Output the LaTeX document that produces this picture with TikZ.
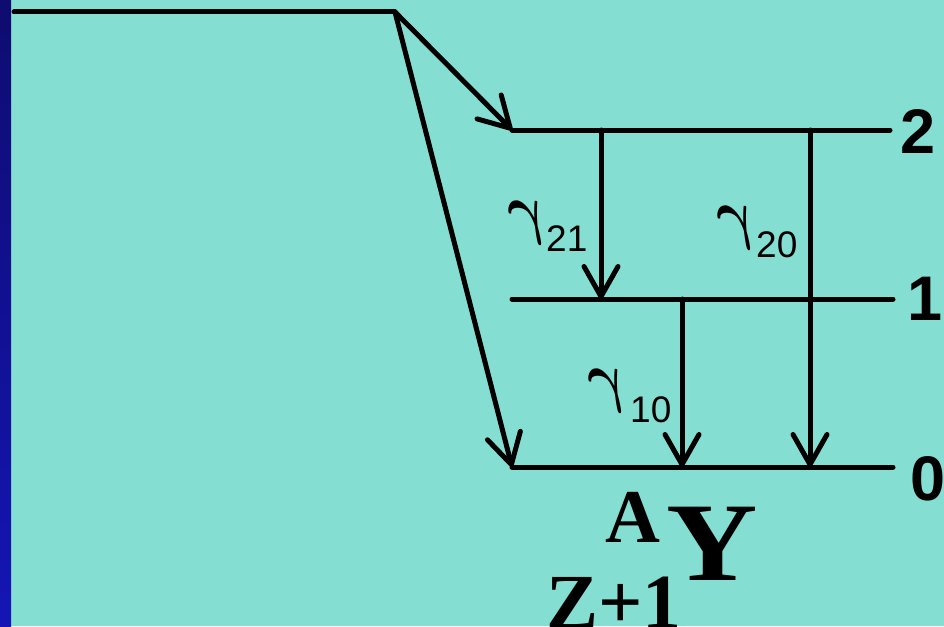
\documentclass[tikz,border=0pt]{standalone}
\usepackage{fontspec}
\usepackage{bm}
\setmainfont{Liberation Sans}
\newfontfamily\serifb{Liberation Serif}
\usetikzlibrary{arrows.meta}
\definecolor{bgteal}{HTML}{84DFD2}
\definecolor{stripTop}{HTML}{0E0C70}
\definecolor{stripBot}{HTML}{1515B5}
\newcommand{\bgam}{\scalebox{5.4}[6.8]{$\bm{\gamma}$}}
\begin{document}
\begin{tikzpicture}[x=1pt,y=-1pt,
  ln/.style={line width=5pt,line cap=round},
  arr/.style={ln,-{Straight Barb[length=30pt,width=34pt,line width=5pt,round]}},
  lvl/.style={inner sep=0pt,anchor=base west,font=\fontsize{63}{63}\selectfont\bfseries},
  gsym/.style={inner sep=0pt,anchor=north west,xslant=-0.38,transform shape},
  gsub/.style={inner sep=0pt,anchor=base west,font=\fontsize{37}{37}\selectfont}]
\useasboundingbox (0,0) rectangle (944,626);
\fill[bgteal] (0,0) rectangle (944,626);
\shade[top color=stripTop,bottom color=stripBot] (0,0) rectangle (11,626);
% coordinates
\coordinate (s) at (14,12);
\coordinate (k) at (395,12);
\coordinate (L2a) at (512,130); \coordinate (L2b) at (890,130);
\coordinate (L1a) at (512,299); \coordinate (L1b) at (893,299);
\coordinate (L0a) at (512,467); \coordinate (L0b) at (893,467);
\coordinate (t21) at (601,130); \coordinate (h21) at (601,299);
\coordinate (t20) at (810,130); \coordinate (h20) at (810,467);
\coordinate (t10) at (682,299); \coordinate (h10) at (682,467);
% lines
\draw[ln] (s) -- (k);
\draw[arr] (k) -- (L2a);
\draw[arr] (k) -- (L0a);
\draw[ln] (L2a) -- (L2b);
\draw[ln] (L1a) -- (L1b);
\draw[ln] (L0a) -- (L0b);
\draw[arr] (t21) -- (h21);
\draw[arr] (t20) -- (h20);
\draw[arr] (t10) -- (h10);
% level labels
\node[lvl] (n2) at (900,153) {2};
\node[lvl] (n1) at (907,320) {1};
\node[lvl] (n0) at (910,500) {0};
% gamma labels
\node[gsym] (g21) at (504,201) {\bgam};
\node[gsub] (s21) at (546,251) {21};
\node[gsym] (g20) at (713,206) {\bgam};
\node[gsub] (s20) at (756,257) {20};
\node[gsym] (g10) at (584,369) {\bgam};
\node[gsub] (s10) at (630,422) {10};
% nucleus label
\node[inner sep=0pt,anchor=base west,font=\serifb\bfseries\fontsize{76}{76}\selectfont] (A) at (605,542) {A};
\node[inner sep=0pt,anchor=base west,font=\serifb\bfseries\fontsize{112}{112}\selectfont] (Y) at (666,580) {\scalebox{1.13}[1]{Y}};
\node[inner sep=0pt,anchor=base west,font=\serifb\bfseries\fontsize{78}{78}\selectfont] (Z) at (546,628) {Z+1};
\end{tikzpicture}
\end{document}
